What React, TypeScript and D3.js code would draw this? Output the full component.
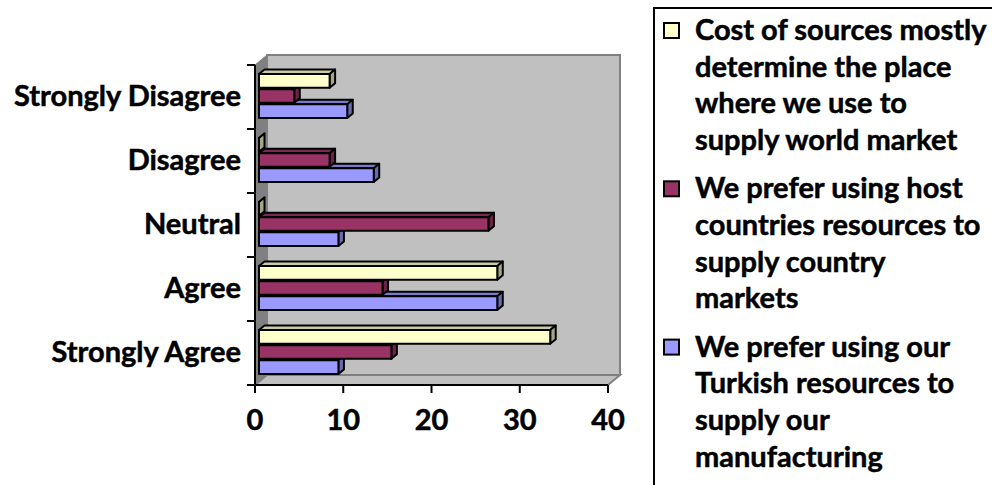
import React from "react";
import * as d3 from "d3";

const categories = ["Strongly Disagree", "Disagree", "Neutral", "Agree", "Strongly Agree"];
const seriesNames = [
  "Cost of sources mostly determine the place where we use to supply world market",
  "We prefer using host countries resources to supply country markets",
  "We prefer using our Turkish resources to supply our manufacturing",
];
const costValues = [8, 0, 0, 27, 33];
const hostValues = [4, 8, 26, 14, 15];
const turkishValues = [10, 13, 9, 27, 9];
const xTicks = [0, 10, 20, 30, 40];
const legendLines = [
  ["Cost of sources mostly", "determine the place", "where we use to", "supply world market"],
  ["We prefer using host", "countries resources to", "supply country", "markets"],
  ["We prefer using our", "Turkish resources to", "supply our", "manufacturing"],
];

const seriesValues = [costValues, hostValues, turkishValues];
const fills = ["#FFFFCC", "#993366", "#9999FF"];
const sideFills = ["#A6A683", "#6B2447", "#6B6BB3"];
const topFills = ["#CCCCA3", "#7A2952", "#7A7ACC"];

const FONT = "Lato, 'Open Sans', sans-serif";
const textProps = {
  fontFamily: FONT,
  fontWeight: "bold" as const,
  fontSize: 29,
  fill: "#000",
  stroke: "#000",
  strokeWidth: 0.5,
};

export default function App() {
  const W = 992, H = 485;
  const x = d3.scaleLinear().domain([0, 40]).range([255, 608]);
  const y = d3.scaleBand().domain(categories).range([65, 385]);
  const inner = d3.scaleBand().domain(seriesNames).range([12, 56]).paddingInner(0.1);
  const wallDx = 12, wallDy = -10;
  const shiftX = 4, shiftY = -3;
  const bdx = 5.5, bdy = -4.5;
  const [x0, x1] = x.range();
  const [yTop, yBot] = y.range();

  const bars: React.ReactNode[] = [];
  categories.forEach((c, ci) => {
    for (let si = seriesNames.length - 1; si >= 0; si--) {
      const v = seriesValues[si][ci];
      const by = (y(c) as number) + (inner(seriesNames[si]) as number) + shiftY;
      const h = inner.bandwidth();
      const bx0 = x(0) + shiftX;
      const bx1 = x(v) + shiftX;
      const top = `${bx0},${by} ${bx0 + bdx},${by + bdy} ${bx1 + bdx},${by + bdy} ${bx1},${by}`;
      const side = `${bx1},${by} ${bx1 + bdx},${by + bdy} ${bx1 + bdx},${by + h + bdy} ${bx1},${by + h}`;
      bars.push(
        <g key={`${ci}-${si}`} stroke="#000" strokeWidth={2} strokeLinejoin="round">
          <polygon points={top} fill={topFills[si]} />
          <polygon points={side} fill={sideFills[si]} />
          <rect x={bx0} y={by} width={Math.max(0, bx1 - bx0)} height={h} fill={fills[si]} />
        </g>
      );
    }
  });

  const legendX = 654, legendY = 8;
  const baseY0 = 40, linePitch = 36.7, entryPitch = 158.3;

  return (
    <svg width={W} height={H} style={{ position: "absolute", left: 0, top: 0, display: "block" }}>
      <rect x={0} y={0} width={W} height={H} fill="#fff" />
      {/* back wall */}
      <rect x={x0 + wallDx} y={yTop + wallDy} width={x1 - x0} height={yBot - yTop} fill="#C0C0C0" stroke="#808080" strokeWidth={2} />
      {/* left wall */}
      <polygon
        points={`${x0},${yTop} ${x0 + wallDx},${yTop + wallDy} ${x0 + wallDx},${yBot + wallDy} ${x0},${yBot}`}
        fill="#808080" stroke="#808080" strokeWidth={1}
      />
      {/* floor */}
      <polygon
        points={`${x0},${yBot} ${x0 + wallDx},${yBot + wallDy} ${x1 + wallDx},${yBot + wallDy} ${x1},${yBot}`}
        fill="#C0C0C0" stroke="#808080" strokeWidth={2}
      />
      {bars}
      {/* axes */}
      <line x1={x0} x2={x0} y1={yTop} y2={yBot} stroke="#000" strokeWidth={2} />
      <line x1={x0 - 1} x2={x1} y1={yBot} y2={yBot} stroke="#000" strokeWidth={2} />
      {[...categories.map((c) => y(c) as number), yBot].map((ty, i) => (
        <line key={`yt${i}`} x1={x0 - 8} x2={x0} y1={ty} y2={ty} stroke="#000" strokeWidth={2} />
      ))}
      {xTicks.map((t) => (
        <line key={`xt${t}`} x1={x(t)} x2={x(t)} y1={yBot} y2={yBot + 8} stroke="#000" strokeWidth={2} />
      ))}
      {xTicks.map((t) => (
        <text key={`xl${t}`} x={x(t)} y={430} textAnchor="middle" {...textProps}>
          {t}
        </text>
      ))}
      {categories.map((c) => (
        <text key={c} x={241} y={(y(c) as number) + y.bandwidth() / 2 + 9} textAnchor="end" {...textProps}>
          {c}
        </text>
      ))}
      {/* legend */}
      <rect x={legendX} y={legendY} width={400} height={500} fill="#fff" stroke="#000" strokeWidth={2} />
      {legendLines.map((lines, si) => {
        const b = baseY0 + si * entryPitch;
        return (
          <g key={`lg${si}`}>
            <rect x={664} y={b - 17} width={15} height={15} fill={fills[si]} stroke="#000" strokeWidth={2} />
            {lines.map((ln, li) => (
              <text key={li} x={695} y={b + li * linePitch} {...textProps}>
                {ln}
              </text>
            ))}
          </g>
        );
      })}
    </svg>
  );
}
